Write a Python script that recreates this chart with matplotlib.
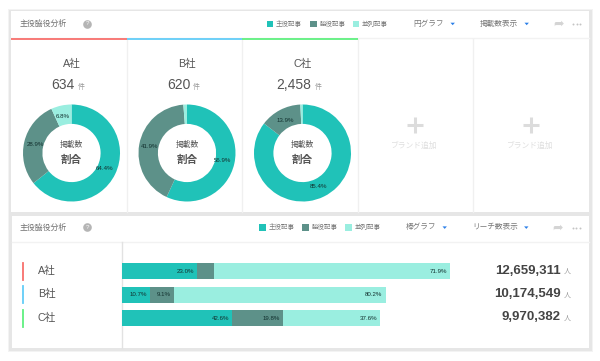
import matplotlib
matplotlib.use("Agg")
import matplotlib.pyplot as plt
from matplotlib.patches import Rectangle, Polygon

plt.rcParams['font.family'] = ['Liberation Sans', 'Noto Sans CJK JP', 'DejaVu Sans']

# データ
companies = ['A社', 'B社', 'C社']
company_colors = ['#f8706c', '#62cdf8', '#5ff07f']
article_types = ['主役記事', '脇役記事', '並列記事']
type_colors = ['#20c2b8', '#5d9189', '#9aeee0']
counts = ['634', '620', '2,458']
donut_main = [64.4, 56.9, 85.4]
donut_side = [28.9, 41.9, 13.9]
donut_equal = [6.8, 1.2, 0.7]
bar_main = [23.0, 10.7, 42.6]
bar_side = [5.1, 9.1, 19.8]
bar_equal = [71.9, 80.2, 37.6]
reach = [12659311, 10174549, 9970382]

W, H = 600, 361
fig = plt.figure(figsize=(6, 3.61), dpi=100, facecolor='white')


def ax_px(x0, y0, x1, y1, **kw):
    # 画像のピクセル座標でaxesを置く
    return fig.add_axes([x0 / W, 1 - y1 / H, (x1 - x0) / W, (y1 - y0) / H], **kw)


# 枠と文字用
bg = ax_px(0, 0, W, H)
bg.set_xlim(0, W)
bg.set_ylim(H, 0)
bg.axis('off')

bg.add_patch(Rectangle((7.5, 8.5), 585, 343, fc='#f3f3f3', ec='none'))
bg.add_patch(Rectangle((8.5, 9.5), 583, 341, fc='#e6e6e6', ec='none'))
bg.add_patch(Rectangle((10.5, 11), 578.5, 201, fc='white', ec='none'))
bg.add_patch(Rectangle((11.5, 216), 577, 132, fc='white', ec='none'))
bg.plot([10.5, 589], [37.5, 37.5], color='#f2f2f2', lw=1)
bg.plot([11.5, 588.5], [241.5, 241.5], color='#f2f2f2', lw=1)
bg.plot([121.5, 121.5], [242, 348], color='#e2e2e2', lw=1)
for x in [126.5, 241.5, 357.5, 472.5]:
    bg.plot([x, x], [39, 212], color='#f0f0f0', lw=1)
for i, (x0, x1) in enumerate([(10.5, 126.5), (126.5, 241.5), (241.5, 357.5)]):
    bg.plot([x0, x1], [38.5, 38.5], color=company_colors[i], lw=1.3, solid_capstyle='butt')


def header(y, legend_xs, menu1, menu1_x, tri1_x, menu2, menu2_x, tri2_x, share_x, dots_x):
    bg.text(20, y, '主役脇役分析', fontsize=5.7, color='#707070', ha='left', va='center')
    bg.plot([87], [y - 0.3], 'o', ms=6.2, color='#b5b5b5', mec='none')
    bg.text(87, y - 0.3, '?', fontsize=4.5, color='white', ha='center', va='center')
    for lx, name, c in zip(legend_xs, article_types, type_colors):
        bg.add_patch(Rectangle((lx, y - 3.5), 6.5, 6.5, fc=c, ec='none'))
        bg.text(lx + 9.3, y + 0.2, name, fontsize=4.7, color='#787878', ha='left', va='center')
    bg.text(menu1_x, y, menu1, fontsize=5.5, color='#787878', ha='left', va='center')
    bg.text(menu2_x, y, menu2, fontsize=5.5, color='#787878', ha='left', va='center')
    for tx in [tri1_x, tri2_x]:
        bg.add_patch(Polygon([[tx - 2.2, y - 1.3], [tx + 2.2, y - 1.3], [tx, y + 1.2]], fc='#2b7fe8', ec='none'))
    bg.text(share_x, y, '➦', fontsize=9, color='#d4d4d4', ha='center', va='center', family='DejaVu Sans')
    bg.plot([dots_x - 3.5, dots_x, dots_x + 3.5], [y, y, y], 'o', ms=1.4, color='#c4c4c4', mec='none')


header(24, [266.7, 310, 352.7], '円グラフ', 413, 452.7, '掲載数表示', 480, 526.7, 558.5, 576.7)
header(227.7, [259.3, 302, 345], '棒グラフ', 405.7, 444.7, 'リーチ数表示', 472, 526.3, 557.7, 576)

# ドーナツ
centers = [71.5, 187, 302.5]
cy = 153
R = 48.5
label_pos = [
    [(33.5, 16), (-36.5, -9), (-8.5, -36)],
    [(36, 8), (-37, -6), None],
    [(16.5, 34), (-17.5, -33), None],
]
count_x = [-8.5, -8, -8.5]
unit_x = [9.5, 9, 15.5]
for i, cx in enumerate(centers):
    ax = ax_px(cx - R, cy - R, cx + R, cy + R)
    vals = [donut_main[i], donut_side[i], donut_equal[i]]
    ax.pie(vals, colors=type_colors, startangle=90, counterclock=False, radius=1,
           wedgeprops=dict(width=0.4, edgecolor='none'))
    ax.set_xlim(-1, 1)
    ax.set_ylim(-1, 1)
    for v, p in zip(vals, label_pos[i]):
        if p is not None:
            ax.annotate(f'{v}%', (0, 0), xytext=(p[0] * 0.72, -p[1] * 0.72), textcoords='offset points',
                        fontsize=4.4, color='#12302e', ha='center', va='center')

    bg.text(cx, 64, companies[i], fontsize=7.7, color='#555555', ha='center', va='center')
    bg.text(cx + count_x[i], 85, counts[i], fontsize=10, color='#555555', ha='center', va='center')
    bg.text(cx + unit_x[i], 87, '件', fontsize=5, color='#999999', ha='center', va='center')
    bg.text(cx, 144.7, '掲載数', fontsize=5.6, color='#555555', ha='center', va='center')
    bg.text(cx, 160, '割合', fontsize=7.6, color='#555555', ha='center', va='center', fontweight='bold')

# ブランド追加
for x in [414.7, 530.7]:
    bg.plot([x - 8, x + 8], [124.5, 124.5], color='#dcdcdc', lw=2.2, solid_capstyle='butt')
    bg.plot([x, x], [116.5, 132.5], color='#dcdcdc', lw=2.2, solid_capstyle='butt')
    bg.text(x, 145.3, 'ブランド追加', fontsize=5.6, color='#dedede', ha='center', va='center')

# 棒グラフ
bar_ax = ax_px(122, 242, 450, 348)
bar_ax.patch.set_alpha(0)
bar_ax.set_xlim(0, max(reach))
bar_ax.set_ylim(106, 0)
bar_ax.axis('off')
bar_y = [29.3, 52.7, 76.2]
for i, y in enumerate(bar_y):
    left = 0
    parts = [bar_main[i], bar_side[i], bar_equal[i]]
    for j, p in enumerate(parts):
        w = reach[i] * p / 100
        bar_ax.barh(y, w, height=16, left=left, color=type_colors[j], edgecolor='none')
        if j != 1 or i != 0:
            bar_ax.annotate(f'{p}%', (left + w, y), xytext=(-2.2, 0), textcoords='offset points',
                            fontsize=4.4, color='#12302e', ha='right', va='center')
        left += w

for i, y in enumerate(bar_y):
    py = 242 + y
    bg.plot([22.7, 22.7], [py - 8.5, py + 8.5], color=company_colors[i], lw=1.3)
    bg.text(38, py - 0.7, companies[i], fontsize=7.7, color='#555555', ha='left', va='center')
    bg.text(561, py - 0.7, f'{reach[i]:,}', fontsize=9.5, color='#444444', ha='right',
            va='center', fontweight='bold')
    bg.text(567.7, py + 1.2, '人', fontsize=5, color='#999999', ha='center', va='center')

fig.savefig('out.png', dpi=100)
